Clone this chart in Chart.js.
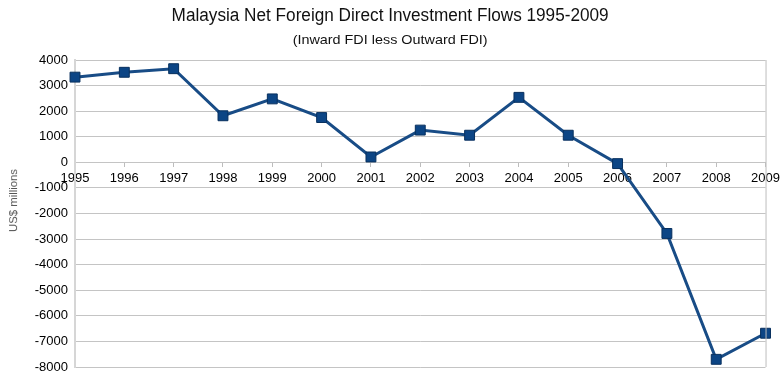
<!DOCTYPE html>
<html>
<head>
<meta charset="utf-8">
<script src="https://cdn.jsdelivr.net/npm/chart.js@4/dist/chart.umd.min.js"></script>
<style>
  html, body { margin: 0; padding: 0; background: #fff; }
  #wrap { position: relative; width: 783px; height: 383px; }
  .txt { position: absolute; font-family: "Liberation Sans", Arial, sans-serif; white-space: nowrap; line-height: 1; }
  #title { font-size: 18px; color: #111; top: 6px; }
  #subtitle { font-size: 13px; color: #111; top: 33px; }
  #ytitle { font-size: 11px; color: #555; }
</style>
</head>
<body>
<div id="wrap">
  <canvas id="c" width="783" height="383"></canvas>
  <span id="title" class="txt">Malaysia Net Foreign Direct Investment Flows 1995-2009</span>
  <span id="subtitle" class="txt">(Inward FDI less Outward FDI)</span>
  <span id="ytitle" class="txt">US$ millions</span>
</div>
<script>
const years = ["1995","1996","1997","1998","1999","2000","2001","2002","2003","2004","2005","2006","2007","2008","2009"];
const netFDI = [3330, 3520, 3660, 1820, 2480, 1750, 210, 1260, 1060, 2540, 1060, -50, -2780, -7700, -6680];
const yTicks = [4000, 3000, 2000, 1000, 0, -1000, -2000, -3000, -4000, -5000, -6000, -7000, -8000];

// place text: center x, target width
function fitText(id, cx, w) {
  const el = document.getElementById(id);
  const nat = el.getBoundingClientRect().width;
  el.style.left = (cx - nat / 2) + 'px';
  el.style.transformOrigin = '50% 50%';
  el.style.transform = 'scaleX(' + (w / nat) + ')';
}
fitText('title', 390, 437);
fitText('subtitle', 390, 195);
(function () {
  const el = document.getElementById('ytitle');
  const r = el.getBoundingClientRect();
  el.style.left = (14 - r.width / 2) + 'px';
  el.style.top = (200 - r.height / 2) + 'px';
  el.style.transformOrigin = '50% 50%';
  el.style.transform = 'rotate(-90deg) scaleX(' + (63 / r.width) + ')';
})();

const frame = {
  id: 'frame',
  afterDraw(chart) {
    const a = chart.chartArea, ctx = chart.ctx;
    ctx.save();
    ctx.strokeStyle = '#bdbdbd';
    ctx.lineWidth = 1;
    ctx.beginPath();
    ctx.moveTo(a.right + 0.5, a.top);
    ctx.lineTo(a.right + 0.5, a.bottom);
    ctx.stroke();
    ctx.restore();
  }
};

new Chart(document.getElementById('c'), {
  type: 'line',
  data: {
    labels: years,
    datasets: [{
      data: netFDI,
      borderColor: '#184c86',
      borderWidth: 3,
      backgroundColor: '#0c4585',
      pointStyle: 'rect',
      pointRadius: 7,
      pointBorderColor: '#08305e',
      pointBorderWidth: 1,
      tension: 0
    }]
  },
  options: {
    responsive: false,
    animation: false,
    layout: { padding: { top: 60, right: 17, bottom: 16, left: 0 } },
    plugins: { legend: { display: false }, title: { display: false }, tooltip: { enabled: false } },
    scales: {
      x: {
        type: 'category',
        offset: false,
        position: { y: 0 },
        grid: { drawOnChartArea: false, drawTicks: true, tickLength: 5, color: '#bdbdbd' },
        border: { display: false },
        ticks: { color: '#000', padding: 3, maxRotation: 0, autoSkip: false,
          font: { family: "'Liberation Sans', Arial, sans-serif", size: 13 } }
      },
      y: {
        min: -8000, max: 4000,
        afterBuildTicks(scale) { scale.ticks = yTicks.map(v => ({ value: v })); },
        afterFit(scale) { scale.width = 75; },
        grid: { color: '#c4c4c4', drawTicks: false, lineWidth: 1 },
        border: { display: true, color: '#d6d6d6', width: 2 },
        ticks: { color: '#000', padding: 7, callback: v => String(v),
          font: { family: "'Liberation Sans', Arial, sans-serif", size: 13 } }
      }
    }
  },
  plugins: [frame]
});
</script>
</body>
</html>
